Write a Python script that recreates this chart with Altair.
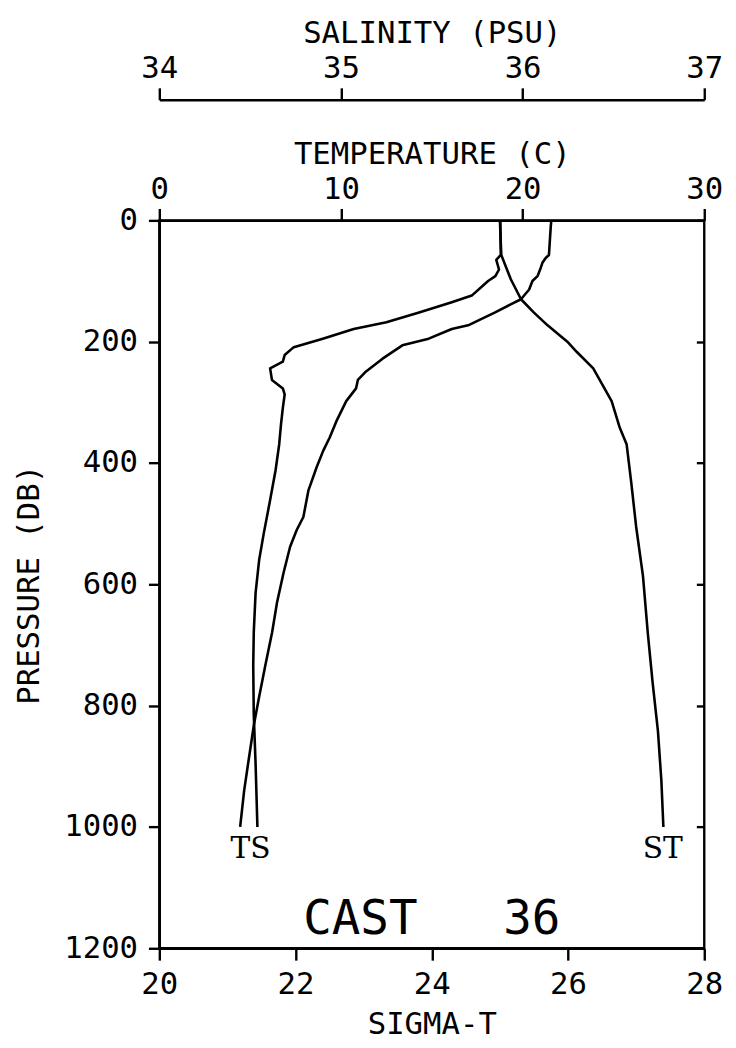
import altair as alt
import pandas as pd

# ---- data ----
temp_p = [0, 10, 57, 62, 70, 78, 92, 100, 114, 130, 138, 152, 173, 179, 195, 206, 228, 249,
          263, 277, 298, 331, 358, 380, 407, 445, 489, 510, 538, 581, 630, 679, 733, 788,
          831, 885, 940, 1000]
temp_v = [21.58, 21.55, 21.45, 21.27, 21.09, 21.0, 20.82, 20.54, 20.36, 19.91, 19.37, 18.46,
          17.0, 16.1, 14.83, 13.38, 12.29, 11.38, 10.93, 10.83, 10.29, 9.75, 9.38, 9.02, 8.66,
          8.21, 7.93, 7.57, 7.20, 6.84, 6.48, 6.21, 5.84, 5.48, 5.21, 4.94, 4.67, 4.45]

sal_p = [0, 57, 65, 81, 92, 100, 124, 135, 152, 168, 179, 195, 209, 222, 233, 244, 263, 277,
         287, 309, 336, 369, 412, 461, 516, 559, 614, 679, 733, 815, 896, 1000]
sal_v = [35.877, 35.88, 35.855, 35.87, 35.85, 35.81, 35.72, 35.61, 35.43, 35.25, 35.07, 34.90,
         34.74, 34.69, 34.68, 34.61, 34.62, 34.68, 34.69, 34.68, 34.67, 34.66, 34.64, 34.61,
         34.575, 34.55, 34.53, 34.52, 34.517, 34.52, 34.53, 34.54]

sig_p = [0, 57, 97, 130, 152, 173, 200, 217, 244, 298, 342, 369, 434, 505, 586, 679, 760,
         842, 923, 1000]
sig_v = [25.00, 25.02, 25.16, 25.31, 25.50, 25.70, 25.99, 26.13, 26.37, 26.64, 26.76, 26.86,
         26.93, 27.00, 27.10, 27.17, 27.24, 27.32, 27.37, 27.40]

label_text = ["TS", "ST"]
label_sigma = [21.34, 27.39]
label_p = [1037, 1037]

cast_text = ["CAST\u00a0\u00a0\u00a036"]
cast_sigma = [24.0]
cast_p = [1153]

sal_ticks = [34, 35, 36, 37]
temp_ticks = [0, 10, 20, 30]
sig_ticks = [20, 22, 24, 26, 28]
p_ticks = [0, 200, 400, 600, 800, 1000, 1200]

# ---- tables ----
df_t = pd.DataFrame({"P": temp_p, "temp": temp_v})
df_s = pd.DataFrame({"P": sal_p, "sal": sal_v})
df_g = pd.DataFrame({"P": sig_p, "sigma": sig_v})
df_lab = pd.DataFrame({"P": label_p, "sigma": label_sigma, "label": label_text})
df_cast = pd.DataFrame({"P": cast_p, "sigma": cast_sigma, "label": cast_text})

FONT = "DejaVu Sans Mono"
W, H = 551, 736
FS = 31

common = dict(domainColor="black", domainWidth=2.4, tickColor="black", tickWidth=2.4,
              labelColor="black", titleColor="black", labelFont=FONT, titleFont=FONT,
              labelFontSize=FS, titleFontSize=FS, titleFontWeight="normal", grid=False,
              labelFlush=False, labelOverlap=False, format="d")

y_scale = alt.Scale(domain=[0, 1200], reverse=True, nice=False, zero=False)
sig_scale = alt.Scale(domain=[20, 28], nice=False, zero=False)
temp_scale = alt.Scale(domain=[0, 30], nice=False, zero=False)
sal_scale = alt.Scale(domain=[34, 37], nice=False, zero=False)

sig_axis = alt.Axis(orient="bottom", values=sig_ticks, tickSize=12, labelPadding=10,
                    title="SIGMA-T", titleX=W / 2, titleY=77, titleAlign="center",
                    titleBaseline="middle", **common)
temp_axis = alt.Axis(orient="top", values=temp_ticks, tickSize=12, labelPadding=3,
                     title="TEMPERATURE (C)", titleX=W / 2, titleY=-67, titleAlign="center",
                     titleBaseline="middle", **common)
sal_axis = alt.Axis(orient="top", values=sal_ticks, tickSize=12, labelPadding=3, offset=122,
                    title="SALINITY (PSU)", titleX=W / 2, titleY=-67, titleAlign="center",
                    titleBaseline="middle", **common)
y_left = alt.Axis(orient="left", values=p_ticks, tickSize=11, labelPadding=11,
                  title="PRESSURE (DB)", titleX=-131, titleY=H / 2, titleAngle=270,
                  titleAlign="center", titleBaseline="middle", **common)
y_right = alt.Axis(orient="right", values=p_ticks, tickSize=8, offset=-8, labels=False,
                   domain=False, title="", tickColor="black", tickWidth=2.4, grid=False)

line_kw = dict(color="black", strokeWidth=2.6, strokeJoin="round")

sig_line = alt.Chart(df_g).mark_line(**line_kw).encode(
    x=alt.X("sigma:Q", scale=sig_scale, axis=sig_axis),
    y=alt.Y("P:Q", scale=y_scale, axis=y_left),
    order="P:Q",
)
t_line = alt.Chart(df_t).mark_line(**line_kw).encode(
    x=alt.X("temp:Q", scale=temp_scale, axis=temp_axis),
    y=alt.Y("P:Q", scale=y_scale, axis=y_right),
    order="P:Q",
)
s_line = alt.Chart(df_s).mark_line(**line_kw).encode(
    x=alt.X("sal:Q", scale=sal_scale, axis=sal_axis),
    y=alt.Y("P:Q", scale=y_scale, axis=None),
    order="P:Q",
)
labels = alt.Chart(df_lab).mark_text(font="DejaVu Serif", fontSize=30, color="black",
                                     baseline="middle", align="center").encode(
    x=alt.X("sigma:Q", scale=sig_scale, axis=None),
    y=alt.Y("P:Q", scale=y_scale, axis=None),
    text="label:N",
)
cast = alt.Chart(df_cast).mark_text(font=FONT, fontSize=48, color="black",
                                    baseline="middle", align="center").encode(
    x=alt.X("sigma:Q", scale=sig_scale, axis=None),
    y=alt.Y("P:Q", scale=y_scale, axis=None),
    text="label:N",
)

chart = (
    alt.layer(sig_line, t_line, s_line, labels, cast)
    .resolve_scale(x="independent")
    .resolve_axis(x="independent", y="independent")
    .properties(width=W, height=H, autosize=alt.AutoSizeParams(type="none"),
                padding={"left": 153, "top": 209, "right": 24, "bottom": 87},
                background="white")
    .configure_view(stroke="black", strokeWidth=2.4)
)

chart.save("out.html", embed_options={"renderer": "svg", "actions": False})
